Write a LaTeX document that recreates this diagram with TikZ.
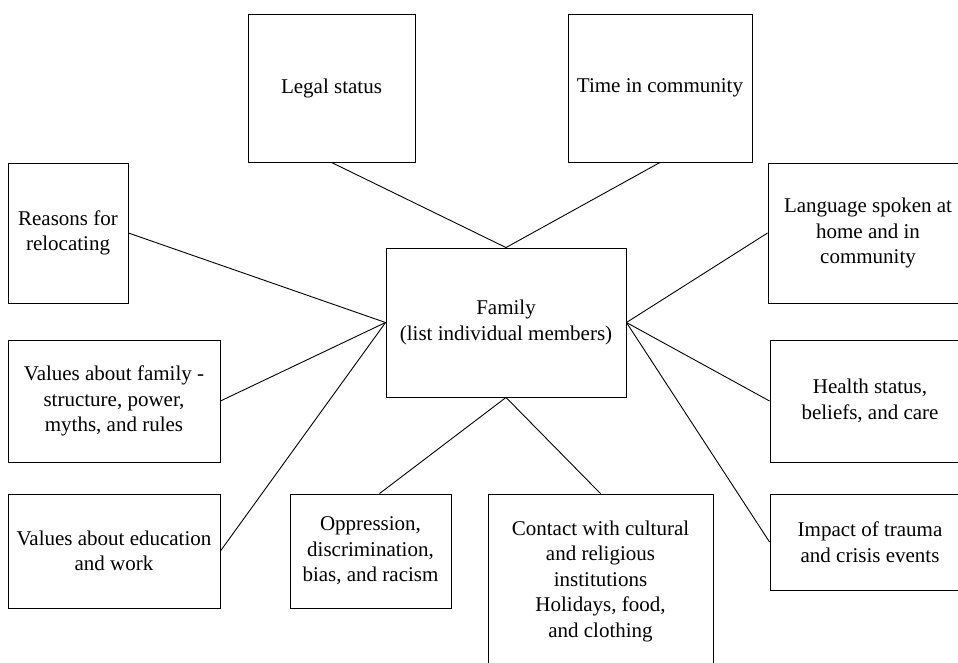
\documentclass[tikz,border=0pt]{standalone}
\usepackage{fontspec}
\setmainfont{Liberation Serif}
\usetikzlibrary{positioning}

\begin{document}
\begin{tikzpicture}[
			x=1pt, y=-1pt,
			every node/.style={font=\fontsize{21}{25.5}\selectfont},
			box/.style={
				rectangle, draw, align=center, inner sep=0pt,
				line width=0.9pt
			},
			link/.style={
				line width=0.9pt
			}
			]
			
			\clip (0,0) rectangle (958,662);
			
			\node[box, minimum width=167pt, minimum height=148pt] (legal) at (331.5,88) {Legal status};
			\node[box, minimum width=184pt, minimum height=148pt] (time) at (660,88) {Time in community};
			\node[box, minimum width=120pt, minimum height=140pt] (reasons) at (68,233) {Reasons for\\relocating};
			\node[box, minimum width=240pt, minimum height=149pt] (family) at (506,322.5) {Family\\(list individual members)};
			\node[box, minimum width=200pt, minimum height=140pt] (lang) at (868,233) {Language spoken at\\home and in\\community};
			\node[box, minimum width=212pt, minimum height=122pt] (valfam) at (114,401) {Values about family -\\structure, power,\\myths, and rules};
			\node[box, minimum width=200pt, minimum height=122pt] (health) at (870,401) {Health status,\\beliefs, and care};
			\node[box, minimum width=212pt, minimum height=114pt] (valedu) at (114,551) {Values about education\\and work};
			\node[box, minimum width=161pt, minimum height=114pt] (oppr) at (370.5,551) {Oppression,\\discrimination,\\bias, and racism};
			\node[box, minimum width=225pt, minimum height=174pt] (contact) at (600.5,581) {Contact with cultural\\and religious\\institutions\\Holidays, food,\\and clothing};
			\node[box, minimum width=200pt, minimum height=96pt] (impact) at (870,542) {Impact of trauma\\and crisis events};
			
			\draw[link] (legal.south) -- (family.north);
			\draw[link] (time.south) -- (family.north);
			\draw[link] (reasons.east) -- (family.west);
			\draw[link] (valfam.east) -- (family.west);
			\draw[link] (valedu.east) -- (family.west);
			\draw[link] ([xshift=9pt]oppr.north) -- (family.south);
			\draw[link] (contact.north) -- (family.south);
			\draw[link] (lang.west) -- (family.east);
			\draw[link] (health.west) -- (family.east);
			\draw[link] (impact.west) -- (family.east);
		\end{tikzpicture}
\end{document}
